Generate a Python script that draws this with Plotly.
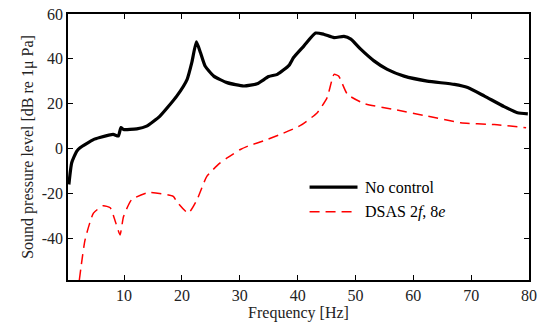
import plotly.graph_objects as go

# No control (black solid)
nc_f = [0.45, 0.94, 1.8, 2.38, 4.7, 5.8, 8.1, 9.0, 9.45, 9.9, 12.2, 13.9, 16.2, 19.1, 20.9, 21.7,
        22.5, 23.2, 24.0, 25.5, 27.8, 30.7, 33.0, 35.0, 36.5, 38.5, 39.3, 41.1, 43.1, 44.5,
        46.3, 48.0, 49.2, 50.9, 53.2, 55.5, 58.4, 62.4, 67.1, 69.4, 72.3, 75.7, 78.0, 79.8]
nc_db = [-16.0, -6.3, -1.2, 0.4, 4.0, 4.9, 6.3, 5.6, 9.4, 8.5, 8.8, 10.0, 14.5, 23.4, 30.9, 38.3,
         47.6, 42.8, 36.8, 32.3, 29.4, 27.9, 28.9, 32.1, 33.1, 37.1, 40.6, 45.8, 51.5, 51.0,
         49.5, 50.0, 48.8, 44.3, 39.1, 35.3, 32.3, 30.1, 28.6, 27.2, 23.4, 18.7, 16.0, 15.5]

# DSAS 2f, 8e (red dashed)
ds_f = [2.26, 3.25, 4.7, 6.4, 7.6, 8.4, 9.3, 9.9, 11.3, 14.2, 18.5, 19.1, 21.1, 22.6, 24.3,
        26.6, 27.8, 30.1, 31.3, 34.7, 37.0, 40.5, 43.4, 45.1, 46.3, 47.1, 48.6, 51.5, 56.7,
        62.4, 68.2, 74.0, 79.5]
ds_db = [-58.6, -40.7, -28.8, -25.5, -26.4, -31.8, -38.5, -30.3, -22.8, -19.6, -21.3, -23.6,
         -28.8, -22.8, -12.4, -6.4, -4.2, -0.4, 1.0, 4.0, 6.3, 10.3, 16.0, 22.7, 33.1, 32.3,
         24.2, 20.1, 17.4, 14.5, 11.5, 10.7, 9.3]

x_ticks = [10, 20, 30, 40, 50, 60, 70, 80]
y_ticks = [-40, -20, 0, 20, 40, 60]

series_names = ["No control", "DSAS 2<i>f</i>, 8<i>e</i>"]
series_colors = ["black", "red"]

FONT = "'Liberation Serif', 'Times New Roman', Times, serif"

fig = go.Figure()
fig.add_trace(go.Scatter(x=nc_f, y=nc_db, mode="lines", name=series_names[0], showlegend=False,
                         line=dict(color=series_colors[0], width=3.2, shape="spline", smoothing=0.5)))
fig.add_trace(go.Scatter(x=ds_f, y=ds_db, mode="lines", name=series_names[1], showlegend=False,
                         line=dict(color=series_colors[1], width=1.5, dash="10px,6px",
                                   shape="spline", smoothing=0.5)))

axis_common = dict(showgrid=False, zeroline=False, showline=True, linecolor="black", linewidth=1.5,
                   mirror="allticks", ticks="inside", ticklen=5, tickcolor="black", tickwidth=1,
                   automargin=False,
                   tickfont=dict(family=FONT, size=16, color="#222"))

fig.update_xaxes(range=[0.3, 80], tickvals=x_ticks, ticktext=[str(v) for v in x_ticks],
                 title=dict(text="Frequency [Hz]", font=dict(family=FONT, size=16, color="#222"),
                            standoff=2),
                 **axis_common)
fig.update_yaxes(range=[-58.6, 60], tickvals=y_ticks, ticktext=[str(v) for v in y_ticks],
                 title=dict(text="Sound pressure level [dB re 1μ Pa]",
                            font=dict(family=FONT, size=16, color="#222"), standoff=4),
                 **axis_common)

# hand-drawn legend (paper coordinates) to match the long line samples
legend_x0, legend_x1, legend_tx = 0.524, 0.628, 0.639
legend_rows = [0.349, 0.257]
for name, color, yrow, dash, w in zip(series_names, series_colors, legend_rows,
                                      ["solid", "10px,6px"], [3.2, 1.5]):
    fig.add_shape(type="line", xref="paper", yref="paper", x0=legend_x0, x1=legend_x1,
                  y0=yrow, y1=yrow, line=dict(color=color, width=w, dash=dash))
    fig.add_annotation(xref="paper", yref="paper", x=legend_tx, y=yrow, text=name,
                       showarrow=False, xanchor="left", yanchor="middle",
                       font=dict(family=FONT, size=16, color="black"))

fig.update_layout(
    width=538, height=323,
    margin=dict(l=68, r=9, t=14, b=43, autoexpand=False),
    paper_bgcolor="white", plot_bgcolor="white",
    showlegend=False,
)

fig.write_html("out.html")
